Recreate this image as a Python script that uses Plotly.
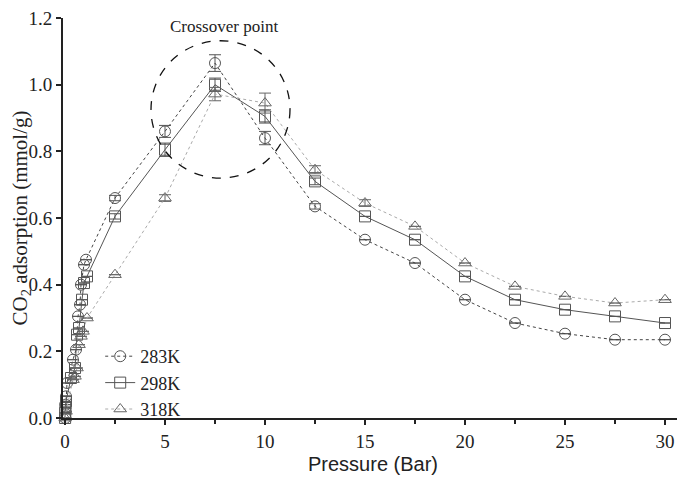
import plotly.graph_objects as go

# Data
P283 = [0.01, 0.03, 0.05, 0.1, 0.4, 0.55, 0.65, 0.75, 0.8, 0.95, 1.05, 2.5, 5, 7.5, 10, 12.5, 15, 17.5, 20, 22.5, 25, 27.5, 30]
V283 = [0.0, 0.04, 0.065, 0.105, 0.175, 0.205, 0.305, 0.34, 0.40, 0.46, 0.475, 0.66, 0.86, 1.065, 0.84, 0.635, 0.535, 0.465, 0.355, 0.285, 0.253, 0.235, 0.235]
E283 = [0, 0, 0, 0, 0, 0, 0, 0, 0, 0, 0, 0.008, 0.018, 0.025, 0.02, 0.008, 0, 0, 0, 0, 0, 0, 0]

P298 = [0.005, 0.01, 0.02, 0.05, 0.3, 0.5, 0.6, 0.7, 0.85, 0.95, 1.1, 2.5, 5, 7.5, 10, 12.5, 15, 17.5, 20, 22.5, 25, 27.5, 30]
V298 = [0.0, 0.015, 0.03, 0.05, 0.12, 0.15, 0.25, 0.27, 0.355, 0.405, 0.425, 0.605, 0.805, 1.0, 0.905, 0.71, 0.605, 0.535, 0.425, 0.355, 0.325, 0.305, 0.285]
E298 = [0, 0, 0, 0, 0, 0, 0, 0, 0, 0, 0, 0.008, 0.02, 0.02, 0.02, 0.01, 0, 0, 0, 0, 0, 0, 0]

P318 = [0.01, 0.05, 0.4, 0.5, 0.6, 0.7, 0.8, 0.9, 1.1, 2.5, 5, 7.5, 10, 12.5, 15, 17.5, 20, 22.5, 25, 27.5, 30]
V318 = [0.0, 0.02, 0.115, 0.125, 0.15, 0.22, 0.245, 0.26, 0.30, 0.43, 0.66, 0.972, 0.945, 0.745, 0.645, 0.575, 0.465, 0.395, 0.365, 0.345, 0.355]
E318 = [0, 0, 0, 0, 0, 0, 0, 0, 0, 0, 0.01, 0.02, 0.03, 0.012, 0.01, 0, 0, 0, 0, 0, 0]

X_TICKS = [0, 5, 10, 15, 20, 25, 30]
X_MINOR = [2.5, 7.5, 12.5, 17.5, 22.5, 27.5]
Y_TICKS = [0.0, 0.2, 0.4, 0.6, 0.8, 1.0, 1.2]

SERIF = "Liberation Serif, Times New Roman, serif"
SANS = "Liberation Sans, Arial, sans-serif"

fig = go.Figure()

def add(name, x, y, e, symbol, lcolor, dash, mcolor):
    fig.add_trace(go.Scatter(
        x=x, y=y, name=name, mode="lines+markers",
        line=dict(color=lcolor, width=1, dash=dash),
        marker=dict(symbol=symbol, size=11, color=mcolor, line=dict(color=mcolor, width=1)),
        error_y=dict(type="data", array=e, visible=True, color=mcolor, thickness=1, width=6),
        cliponaxis=False,
    ))

add("283K", P283, V283, E283, "circle-open", "#444444", "dot", "#555555")
add("298K", P298, V298, E298, "square-open", "#555555", "solid", "#555555")
add("318K", P318, V318, E318, "triangle-up-open", "#aaaaaa", "dot", "#666666")

fig.add_shape(type="circle", xref="x", yref="y", x0=4.3, x1=11.25, y0=0.72, y1=1.132,
              line=dict(color="#111111", width=1.3, dash="dash"))
fig.add_annotation(x=7.95, y=1.176, xref="x", yref="y", text="Crossover point", showarrow=False,
                   font=dict(family=SERIF, size=17, color="#222222"))
fig.add_shape(type="line", xref="paper", yref="paper", x0=1, x1=1, y0=0, y1=1.02,
              line=dict(color="#222222", width=1.5))

fig.update_layout(
    width=677, height=473,
    margin=dict(l=55, r=2, t=10, b=63, autoexpand=False),
    paper_bgcolor="white", plot_bgcolor="white",
    showlegend=True,
    legend=dict(x=0.06, y=0.2, xanchor="left", yanchor="top", bgcolor="rgba(0,0,0,0)",
                font=dict(family=SERIF, size=18, color="#222222"), tracegroupgap=0,
                itemsizing="trace"),
    xaxis=dict(range=[-0.1, 30.9], tickvals=X_TICKS, ticks="outside", ticklen=5, tickwidth=1.5,
               tickcolor="#222222", showline=True, linecolor="#222222", linewidth=2,
               showgrid=False, zeroline=False, automargin=False,
               minor=dict(tickvals=X_MINOR, ticks="outside", ticklen=4,
                          tickwidth=1.5, tickcolor="#222222"),
               tickfont=dict(family=SERIF, size=19, color="#222222"),
               title=dict(text="Pressure (Bar)", font=dict(family=SANS, size=20, color="#222222"),
                          standoff=6)),
    yaxis=dict(range=[0, 1.2003], tickvals=Y_TICKS, tickformat=".1f", ticks="outside", ticklen=5,
               tickwidth=1.5, tickcolor="#222222", showline=True, linecolor="#222222", linewidth=2,
               showgrid=False, zeroline=False, ticklabeloverflow="allow", automargin=False,
               tickfont=dict(family=SERIF, size=19, color="#222222"),
               title=dict(text="CO<sub>2</sub> adsorption (mmol/g)",
                          font=dict(family=SERIF, size=21, color="#222222"), standoff=0)),
)

fig.write_html("out.html")
